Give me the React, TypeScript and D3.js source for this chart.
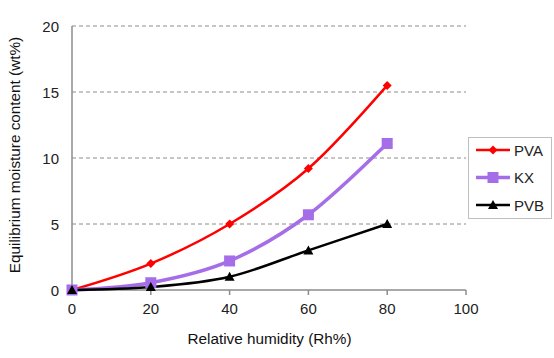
import React from "react";
import * as d3 from "d3";

const humidity = [0, 20, 40, 60, 80];
const pva = [0, 2.0, 5.0, 9.2, 15.5];
const kx = [0, 0.55, 2.2, 5.7, 11.1];
const pvb = [0, 0.22, 1.0, 3.0, 5.0];
const xTicks = [0, 20, 40, 60, 80, 100];
const yTicks = [0, 5, 10, 15, 20];
const seriesNames = ["PVA", "KX", "PVB"];
const seriesColors = ["#ff0000", "#a56ee8", "#000000"];

const W = 554, H = 358;
const left = 72, right = 466, top = 26, bottom = 290;
const font = "Liberation Sans, Arial, sans-serif";

export default function App() {
  const x = d3.scaleLinear().domain([0, 100]).range([left, right]);
  const y = d3.scaleLinear().domain([0, 20]).range([bottom, top]);
  const line = d3.line<number>()
    .x((_, i) => x(humidity[i]))
    .y((d) => y(d))
    .curve(d3.curveCardinal.tension(0));
  const series = [pva, kx, pvb];
  const widths = [2.5, 3.5, 2.5];

  const marker = (k: number, cx: number, cy: number, key: string) => {
    if (k === 0) {
      const s = 4.5;
      return <path key={key} d={`M${cx},${cy - s}L${cx + s},${cy}L${cx},${cy + s}L${cx - s},${cy}Z`} fill={seriesColors[0]} />;
    }
    if (k === 1) {
      const s = 5.5;
      return <rect key={key} x={cx - s} y={cy - s} width={2 * s} height={2 * s} fill={seriesColors[1]} />;
    }
    const s = 5;
    return <path key={key} d={`M${cx},${cy - s}L${cx + s},${cy + s * 0.8}L${cx - s},${cy + s * 0.8}Z`} fill={seriesColors[2]} />;
  };

  return (
    <svg width={W} height={H} style={{ position: "absolute", left: 0, top: 0, background: "#fff" }}>
      <rect x={0} y={0} width={W} height={H} fill="#fff" />
      {yTicks.filter((t) => t > 0).map((t) => (
        <line key={"g" + t} x1={left} x2={right} y1={y(t)} y2={y(t)} stroke="#8c8c8c" strokeWidth={1} strokeDasharray="4,3" />
      ))}
      <line x1={left} x2={left} y1={top} y2={bottom} stroke="#8c8c8c" strokeWidth={1.5} />
      <line x1={left} x2={right} y1={bottom} y2={bottom} stroke="#8c8c8c" strokeWidth={1.5} />
      {xTicks.map((t) => (
        <line key={"xt" + t} x1={x(t)} x2={x(t)} y1={bottom} y2={bottom + 5} stroke="#8c8c8c" strokeWidth={1.5} />
      ))}
      {yTicks.map((t) => (
        <text key={"yl" + t} x={59} y={y(t) + 5.5} textAnchor="end" fontFamily={font} fontSize={15} fill="#222">{t}</text>
      ))}
      {xTicks.map((t) => (
        <text key={"xl" + t} x={x(t)} y={314} textAnchor="middle" fontFamily={font} fontSize={15} fill="#222">{t}</text>
      ))}
      <text x={269.5} y={344} textAnchor="middle" fontFamily={font} fontSize={15.3} fill="#111">Relative humidity (Rh%)</text>
      <text transform={`translate(20,155) rotate(-90)`} textAnchor="middle" fontFamily={font} fontSize={15.3} fill="#111">Equilibrium moisture content (wt%)</text>
      {series.map((s, k) => (
        <path key={"l" + k} d={line(s) || ""} fill="none" stroke={seriesColors[k]} strokeWidth={widths[k]} />
      ))}
      {series.map((s, k) => s.map((v, i) => marker(k, x(humidity[i]), y(v), `m${k}-${i}`)))}
      <rect x={468.5} y={137.5} width={83} height={81} fill="#fff" stroke="#bfbfbf" strokeWidth={1} />
      {seriesNames.map((n, k) => {
        const ly = 150 + k * 27.5;
        return (
          <g key={"lg" + k}>
            <line x1={476} x2={510} y1={ly} y2={ly} stroke={seriesColors[k]} strokeWidth={widths[k]} />
            {marker(k, 493, ly, "lm" + k)}
            <text x={514} y={ly + 5.5} fontFamily={font} fontSize={15} fill="#222">{n}</text>
          </g>
        );
      })}
    </svg>
  );
}
